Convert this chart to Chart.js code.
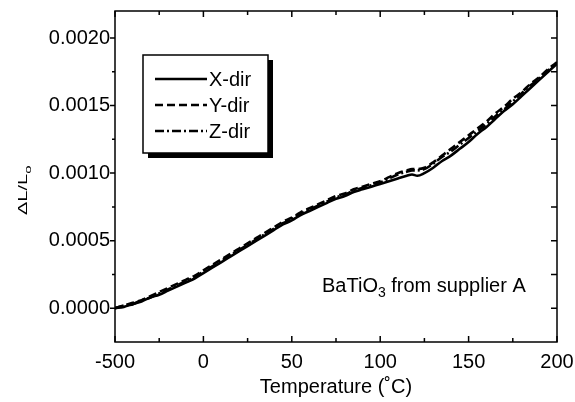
<!DOCTYPE html>
<html>
<head>
<meta charset="utf-8">
<script src="https://cdn.jsdelivr.net/npm/chart.js@4.4.1/dist/chart.umd.min.js"></script>
<style>
html,body{margin:0;padding:0;background:#fff;}
canvas{display:block;}
</style>
</head>
<body>
<canvas id="c" width="575" height="402"></canvas>
<script>
// temperature (C) and dL/Lo for each direction
const temps=[-50,-45,-40,-35,-30,-25,-20,-15,-10,-5,0,5,10,15,20,25,30,35,40,45,50,55,60,65,70,75,80,85,90,95,100,105,110,115,118,121,125,130,135,140,145,150,155,160,165,170,175,180,185,190,195,200];
const xDir=[0.00000,0.00001,0.00003,0.00005,0.00008,0.00010,0.00013,0.00016,0.00019,0.00022,0.00026,0.00030,0.00034,0.00038,0.00042,0.00046,0.00050,0.00054,0.00058,0.00062,0.00065,0.00069,0.00072,0.00075,0.00078,0.00081,0.00083,0.00086,0.00088,0.00090,0.00092,0.00094,0.00096,0.00098,0.00099,0.00098,0.00100,0.00104,0.00109,0.00113,0.00118,0.00123,0.00129,0.00134,0.00140,0.00146,0.00151,0.00157,0.00163,0.00169,0.00175,0.00181];
const yDir=[0.00000,0.00002,0.00004,0.00006,0.00009,0.00012,0.00015,0.00018,0.00021,0.00024,0.00028,0.00032,0.00036,0.00040,0.00044,0.00048,0.00052,0.00056,0.00060,0.00064,0.00067,0.00071,0.00074,0.00077,0.00080,0.00083,0.00085,0.00088,0.00090,0.00092,0.00094,0.00097,0.00100,0.00102,0.00103,0.00103,0.00104,0.00108,0.00113,0.00118,0.00123,0.00128,0.00133,0.00138,0.00144,0.00149,0.00155,0.00160,0.00166,0.00171,0.00177,0.00182];
const zDir=[0.00000,0.00002,0.00003,0.00006,0.00008,0.00011,0.00014,0.00017,0.00020,0.00023,0.00027,0.00031,0.00035,0.00039,0.00043,0.00047,0.00051,0.00055,0.00059,0.00063,0.00066,0.00070,0.00073,0.00076,0.00079,0.00082,0.00084,0.00087,0.00089,0.00091,0.00093,0.00096,0.00099,0.00101,0.00102,0.00102,0.00103,0.00107,0.00112,0.00116,0.00121,0.00126,0.00131,0.00136,0.00142,0.00147,0.00153,0.00159,0.00165,0.00170,0.00176,0.00182];
const seriesNames=["X-dir","Y-dir","Z-dir"];

const xTickValues=[-50,0,50,100,150,200];
const xTickLabels=["-500","0","50","100","150","200"];
const xMinorTicks=[-25,25,75,125,175];
const yTickValues=[0,0.0005,0.0010,0.0015,0.0020];
const yTickLabels=["0.0000","0.0005","0.0010","0.0015","0.0020"];
const yMinorTicks=[0.00025,0.00075,0.00125,0.00175];

const FONT='"Liberation Sans", Arial, Helvetica, sans-serif';

function pts(arr){ return temps.map((t,i)=>({x:t,y:arr[i]})); }

const frame={
 id:"frame",
 afterDraw(chart){
  const ctx=chart.ctx, a=chart.chartArea, xs=chart.scales.x, ys=chart.scales.y;
  ctx.save();
  ctx.strokeStyle="#000"; ctx.fillStyle="#000"; ctx.lineWidth=1.5;
  ctx.strokeRect(a.left,a.top,a.right-a.left,a.bottom-a.top);
  ctx.beginPath();
  xTickValues.concat(xMinorTicks).forEach(v=>{
   const px=xs.getPixelForValue(v), len=xMinorTicks.includes(v)?4:6;
   ctx.moveTo(px,a.bottom); ctx.lineTo(px,a.bottom-len);
   ctx.moveTo(px,a.top); ctx.lineTo(px,a.top+len);
  });
  yTickValues.concat(yMinorTicks).forEach(v=>{
   const py=ys.getPixelForValue(v), minor=yMinorTicks.includes(v);
   ctx.moveTo(a.left,py); ctx.lineTo(a.left-(minor?3:5),py);
   ctx.moveTo(a.right,py); ctx.lineTo(a.right-6,py);
  });
  ctx.stroke();

  // legend box with shadow
  const lx=143, ly=55, lw=125, lh=98;
  ctx.fillRect(lx+5,ly+5,lw,lh);
  ctx.fillStyle="#fff"; ctx.fillRect(lx,ly,lw,lh);
  ctx.strokeRect(lx,ly,lw,lh);
  ctx.font="20px "+FONT; ctx.textBaseline="middle"; ctx.textAlign="left";
  chart.data.datasets.forEach((ds,i)=>{
   const y=79+i*26;
   ctx.setLineDash(ds.borderDash||[]); ctx.lineWidth=2.5;
   ctx.beginPath(); ctx.moveTo(155,y); ctx.lineTo(207,y); ctx.stroke();
   ctx.setLineDash([]);
   ctx.fillStyle="#000"; ctx.fillText(ds.label,209,y+1);
  });

  // axis titles
  ctx.textAlign="center";
  ctx.fillText("Temperature (\u02DAC)",(a.left+a.right)/2,387);
  ctx.save();
  ctx.translate(27,215); ctx.rotate(-Math.PI/2); ctx.scale(1,0.62);
  ctx.textAlign="left"; ctx.textBaseline="alphabetic";
  ctx.fillText("\u0394L/L",0,0);
  const w=ctx.measureText("\u0394L/L").width;
  ctx.font="15px "+FONT; ctx.fillText("o",w,6);
  ctx.restore();

  // annotation
  ctx.textAlign="left"; ctx.textBaseline="alphabetic";
  ctx.font="20px "+FONT;
  let x=322; const base=292;
  ctx.fillText("BaTiO",x,base); x+=ctx.measureText("BaTiO").width;
  ctx.font="14px "+FONT; ctx.fillText("3",x,base+5); x+=ctx.measureText("3").width;
  ctx.font="20px "+FONT; ctx.fillText(" from supplier A",x,base);
  ctx.restore();
 }
};

new Chart(document.getElementById("c"),{
 type:"line",
 data:{datasets:[
  {label:seriesNames[0],data:pts(xDir),borderColor:"#000",borderWidth:2.6,borderDash:[],pointRadius:0,cubicInterpolationMode:"monotone"},
  {label:seriesNames[1],data:pts(yDir),borderColor:"#000",borderWidth:2.6,borderDash:[8,4],pointRadius:0,cubicInterpolationMode:"monotone"},
  {label:seriesNames[2],data:pts(zDir),borderColor:"#000",borderWidth:2.6,borderDash:[9,3,2,3],pointRadius:0,cubicInterpolationMode:"monotone"}
 ]},
 options:{
  responsive:false,animation:false,
  layout:{padding:{top:11,right:18,left:0,bottom:0}},
  plugins:{legend:{display:false},tooltip:{enabled:false}},
  scales:{
   x:{type:"linear",min:-50,max:200,
    afterBuildTicks:s=>{s.ticks=xTickValues.map(v=>({value:v}));},
    afterFit:s=>{s.height=60; s.paddingLeft=0; s.paddingRight=0;},
    grid:{display:false,drawTicks:false},border:{display:false},
    ticks:{padding:8,color:"#000",maxRotation:0,font:{family:FONT,size:20},callback:(v,i)=>xTickLabels[i]}},
   y:{type:"linear",min:-0.00025,max:0.0022,
    afterBuildTicks:s=>{s.ticks=yTickValues.map(v=>({value:v}));},
    afterFit:s=>{s.width=115; s.paddingTop=0; s.paddingBottom=0;},
    grid:{display:false,drawTicks:false},border:{display:false},
    ticks:{padding:5,color:"#000",font:{family:FONT,size:20},callback:(v,i)=>yTickLabels[i]}}
  }
 },
 plugins:[frame]
});
</script>
</body>
</html>
